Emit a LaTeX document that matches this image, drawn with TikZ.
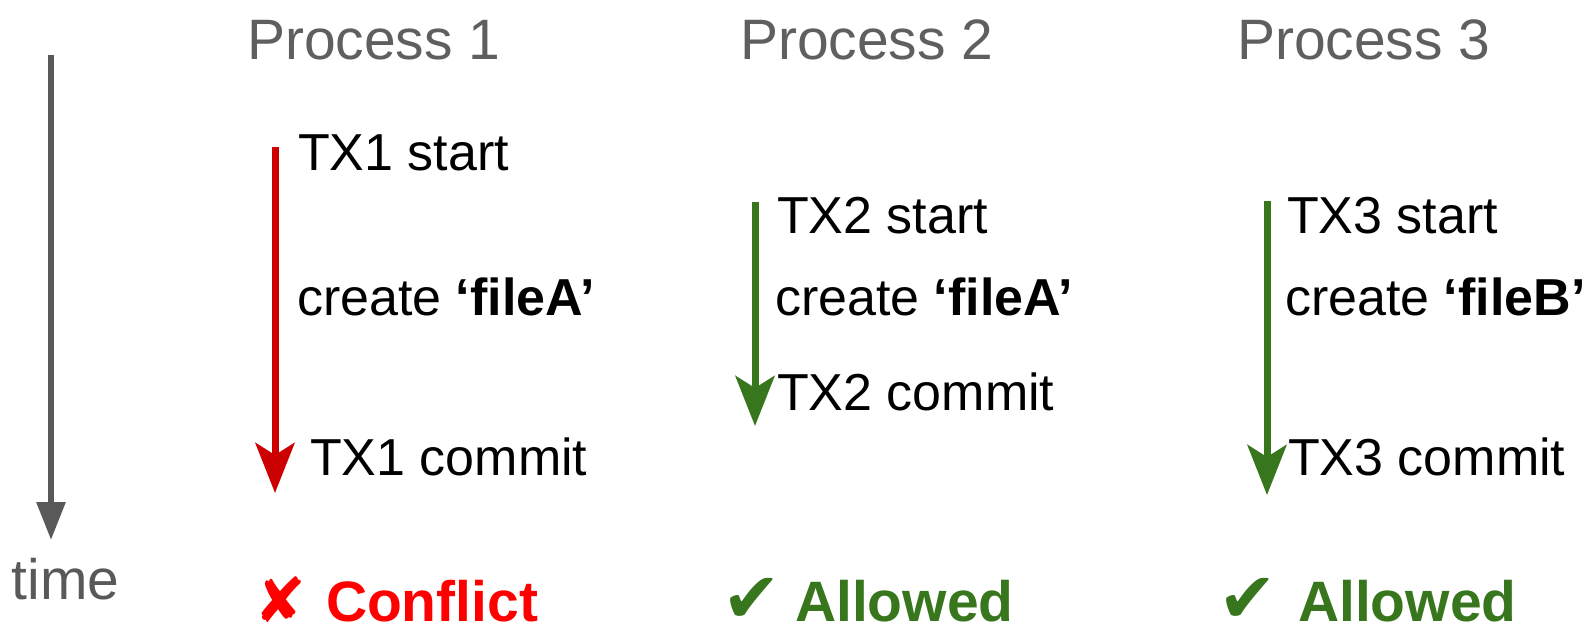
\documentclass[tikz,border=0pt]{standalone}
\usepackage{fontspec}
\setmainfont{Liberation Sans}
\newfontfamily\symfont{DejaVu Sans}
\usetikzlibrary{arrows.meta}
\definecolor{hdrgray}{HTML}{5F5F5F}
\definecolor{axisgray}{HTML}{595959}
\definecolor{arrred}{HTML}{CC0000}
\definecolor{txtred}{HTML}{FF0000}
\definecolor{okgreen}{HTML}{38761D}
\tikzset{
  lbl/.style={anchor=base west,inner sep=0pt,outer sep=0pt,font=\fontsize{52}{60}\selectfont,text=black},
  hdr/.style={anchor=base west,inner sep=0pt,outer sep=0pt,font=\fontsize{57}{64}\selectfont,text=hdrgray},
  res/.style={anchor=base west,inner sep=0pt,outer sep=0pt,font=\fontsize{57}{64}\selectfont\bfseries},
  sym/.style={anchor=base west,inner sep=0pt,outer sep=0pt,font=\fontsize{70}{72}\symfont},
  txarrow/.style={line width=7pt,-{Stealth[width=39pt,length=50pt,inset=12pt]}},
}
\begin{document}
\begin{tikzpicture}[x=1pt,y=-1pt]
\useasboundingbox (0,0) rectangle (1592,630);
% time axis
\coordinate (t0) at (51,55);
\coordinate (t1) at (51,540);
\draw[axisgray,line width=6pt,-{Triangle[width=28pt,length=38pt]}] (t0) -- (t1);
\node[hdr,text=axisgray] (time) at (12,599) {time};
% headers
\node[hdr] (h1) at (247,59) {Process 1};
\node[hdr] (h2) at (740,59) {Process 2};
\node[hdr] (h3) at (1237,59) {Process 3};
% process 1
\coordinate (a1s) at (275,147);
\coordinate (a1e) at (275,493);
\draw[arrred,txarrow] (a1s) -- (a1e);
\node[lbl] (p1a) at (298,170) {TX1 start};
\node[lbl] (p1b) at (297,315) {create \textbf{‘fileA’}};
\node[lbl] (p1c) at (310,475) {TX1 commit};
% process 2
\coordinate (a2s) at (755,202);
\coordinate (a2e) at (755,426);
\draw[okgreen,txarrow] (a2s) -- (a2e);
\node[lbl] (p2a) at (777,233) {TX2 start};
\node[lbl] (p2b) at (775,315) {create \textbf{‘fileA’}};
\node[lbl] (p2c) at (777,410) {TX2 commit};
% process 3
\coordinate (a3s) at (1267,201);
\coordinate (a3e) at (1267,495);
\draw[okgreen,txarrow] (a3s) -- (a3e);
\node[lbl] (p3a) at (1287,233) {TX3 start};
\node[lbl] (p3b) at (1285,315) {create \textbf{‘fileB’}};
\node[lbl] (p3c) at (1288,475) {TX3 commit};
% results
\node[sym,text=txtred,font=\fontsize{62}{64}\symfont] (x1) at (254,622) {✘};
\node[res,text=txtred] (r1) at (326,621) {Conflict};
\node[sym,text=okgreen] (c2) at (722,622) {✔};
\node[res,text=okgreen] (r2) at (795,621) {Allowed};
\node[sym,text=okgreen] (c3) at (1218,622) {✔};
\node[res,text=okgreen] (r3) at (1298,621) {Allowed};
\end{tikzpicture}
\end{document}
